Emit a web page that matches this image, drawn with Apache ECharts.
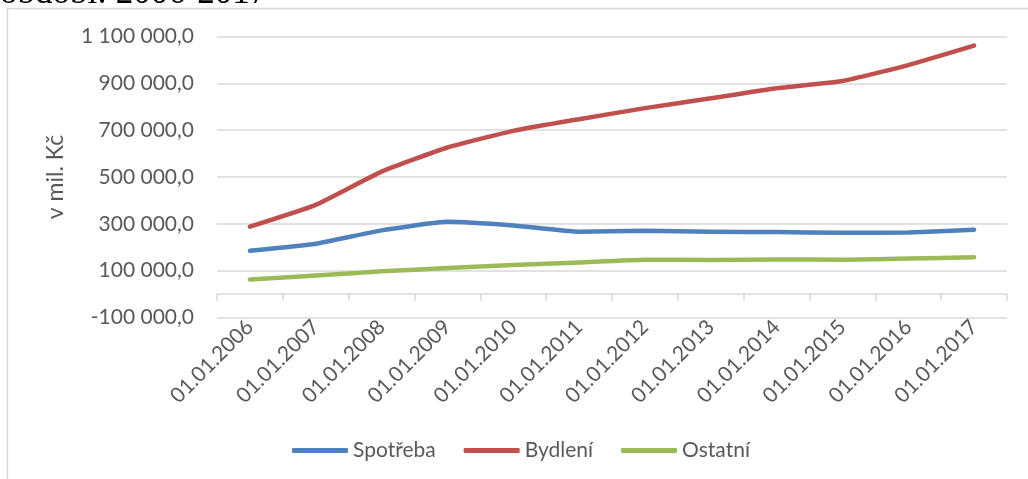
<!DOCTYPE html>
<html>
<head>
<meta charset="utf-8">
<script src="https://cdn.jsdelivr.net/npm/echarts@6/dist/echarts.min.js"></script>
<style>
  html, body { margin: 0; padding: 0; background: #fff; }
  #chart { width: 1028px; height: 479px; }
</style>
</head>
<body>
<div id="chart"></div>
<script>
// data (mil. Kč)
const categories = ['01.01.2006', '01.01.2007', '01.01.2008', '01.01.2009', '01.01.2010', '01.01.2011',
  '01.01.2012', '01.01.2013', '01.01.2014', '01.01.2015', '01.01.2016', '01.01.2017'];
const spotreba = [185000, 215000, 272000, 309000, 293000, 266000, 270000, 266000, 265000, 262000, 263000, 275000];
const bydleni = [288000, 381000, 523000, 626000, 697000, 747000, 794000, 836000, 879000, 910000, 978000, 1061000];
const ostatni = [62000, 79000, 97000, 111000, 124000, 135000, 147000, 146000, 148000, 147000, 152000, 157000];
const seriesNames = ['Spotřeba', 'Bydlení', 'Ostatní'];

const font = 'Lato, "Open Sans", sans-serif';
const txt = '#595959';
const grid = '#d9d9d9';

function fmt(v) {
  const s = Math.abs(v).toFixed(0).replace(/\B(?=(\d{3})+(?!\d))/g, ' ');
  return (v < 0 ? '-' : '') + s + ',0';
}

const chart = echarts.init(document.getElementById('chart'));
chart.setOption({
  animation: false,
  color: ['#4f81bd', '#c0504d', '#9bbb59'],
  graphic: [
    {
      type: 'rect', silent: true,
      shape: { x: 7.5, y: 8.5, width: 1100, height: 600 },
      style: { fill: 'none', stroke: grid, lineWidth: 1.5 }
    },
    {
      type: 'text', silent: true, left: 0, top: -24,
      style: { text: 'období: 2006-2017', font: '35px "Liberation Serif", serif', fill: '#000' }
    }
  ],
  grid: { left: 217, right: 21, top: 36.5, bottom: 161.5 },
  legend: {
    left: 287, top: 435,
    icon: 'roundRect', itemWidth: 56, itemHeight: 5, itemGap: 28,
    textStyle: { color: txt, fontSize: 21, fontFamily: font },
    data: seriesNames
  },
  xAxis: [
    {
      type: 'category', data: categories, position: 'bottom',
      axisLine: { show: false, onZero: false },
      axisTick: { show: false },
      axisLabel: { rotate: 45, interval: 0, margin: 6, color: txt, fontSize: 21, fontFamily: font }
    },
    {
      type: 'category', data: categories, position: 'bottom',
      axisLine: { onZero: true, lineStyle: { color: grid, width: 1.5 } },
      axisTick: { show: true, interval: 0, length: 7, lineStyle: { color: grid, width: 1.5 } },
      axisLabel: { show: false }
    }
  ],
  yAxis: {
    type: 'value', min: -100000, max: 1100000, interval: 200000,
    name: 'v mil. Kč', nameLocation: 'middle', nameRotate: 90, nameGap: 150,
    nameTextStyle: { color: txt, fontSize: 23, fontFamily: font },
    axisLine: { show: false }, axisTick: { show: false },
    axisLabel: { formatter: fmt, margin: 23, color: txt, fontSize: 21, fontFamily: font },
    splitLine: { lineStyle: { color: grid, width: 1.5 } }
  },
  series: [
    { name: seriesNames[0], type: 'line', data: spotreba },
    { name: seriesNames[1], type: 'line', data: bydleni },
    { name: seriesNames[2], type: 'line', data: ostatni }
  ].map(s => Object.assign(s, {
    xAxisIndex: 0, symbol: 'none', smooth: 0.15,
    lineStyle: { width: 4.5, cap: 'round', join: 'round' }
  }))
});
</script>
</body>
</html>
